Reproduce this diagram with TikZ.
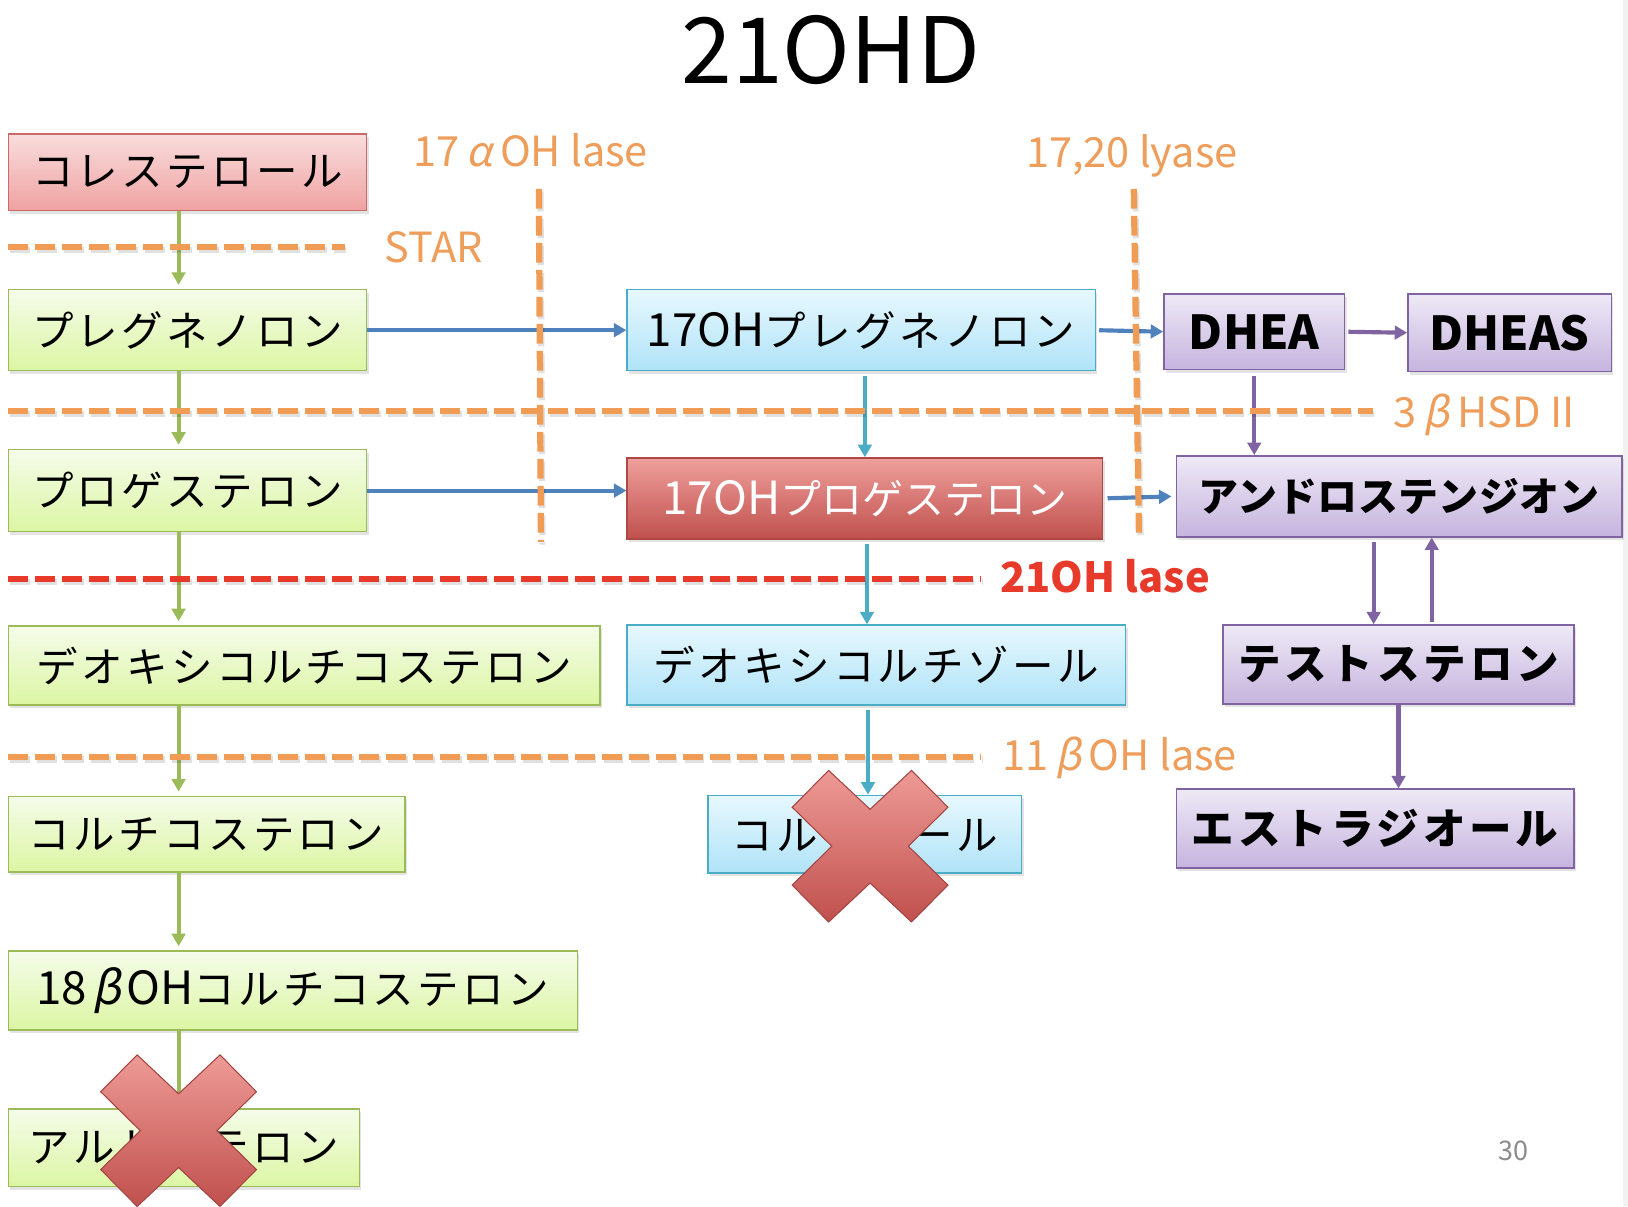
\documentclass[tikz,border=0pt]{standalone}
\usepackage{fontspec}
\setmainfont{Noto Sans CJK JP}
\newfontfamily\jpsl[FakeSlant=0.2]{Noto Sans CJK JP}
\usetikzlibrary{arrows.meta,shadows,calc}
\definecolor{orng}{HTML}{F09C55}
\definecolor{orngtxt}{HTML}{EE9D5A}
\definecolor{redl}{HTML}{E83A2B}
\definecolor{garrc}{HTML}{9BBB59}
\definecolor{barrc}{HTML}{4F81BD}
\definecolor{tarrc}{HTML}{4BACC6}
\definecolor{parrc}{HTML}{8064A2}
\definecolor{redb}{HTML}{C0504D}
\definecolor{pinktop}{HTML}{F9DDDD}
\definecolor{pinkbot}{HTML}{EFA2A1}
\definecolor{greentop}{HTML}{F5FCEA}
\definecolor{greenbot}{HTML}{DCF6A3}
\definecolor{bluetop}{HTML}{E7F8FE}
\definecolor{bluebot}{HTML}{B0E3F8}
\definecolor{redtop}{HTML}{EFA09C}
\definecolor{purptop}{HTML}{EEE9F6}
\definecolor{purpbot}{HTML}{C6B4DE}
\definecolor{xtop}{HTML}{EE9A96}
\newcommand\gk[1]{\hspace{7pt}{\jpsl #1}\hspace{7pt}}
\newcommand\lt[1]{{\fontsize{44}{46}\selectfont\addfontfeatures{LetterSpace=0}#1}}
\newcommand\drawcross[2]{%
  \begin{scope}[shift={(#1,#2)}]
  \path[xcross] (-39.9,-73) -- (0,-35.5) -- (39.9,-73) -- (75,-37.5) -- (36.9,0) -- (75,37.5)
    -- (39.9,73) -- (0,35.5) -- (-39.9,73) -- (-75,37.5) -- (-36.9,0) -- (-75,-37.5) -- cycle;
  \end{scope}}
\begin{document}
\begin{tikzpicture}[x=1pt,y=-1pt,
  box/.style={draw, line width=1.4pt, inner sep=0pt, align=center,
    font=\fontsize{40}{44}\selectfont\addfontfeatures{LetterSpace=8},
    drop shadow={shadow xshift=2pt, shadow yshift=-3pt, opacity=0.22}},
  pinkbox/.style={box, draw=redb!85, top color=pinktop, bottom color=pinkbot},
  greenbox/.style={box, draw=garrc, top color=greentop, bottom color=greenbot},
  bluebox/.style={box, draw=tarrc, top color=bluetop, bottom color=bluebot},
  redbox/.style={box, draw=redb!90!black, top color=redtop, bottom color=redb, text=white},
  purpbox/.style={box, draw=parrc, top color=purptop, bottom color=purpbot,
    font=\fontsize{41}{46}\selectfont\bfseries\addfontfeatures{LetterSpace=9}},
  arr/.style={line width=4pt, -{Triangle[length=12pt,width=13pt]}},
  garr/.style={arr, draw=garrc, shorten >=4pt},
  barr/.style={arr, draw=barrc},
  tarr/.style={arr, draw=tarrc, shorten <=4pt},
  parr/.style={arr, draw=parrc},
  dshadow/.style={draw=black, opacity=0.12, line width=6pt, dash pattern=on 19pt off 7pt, transform canvas={xshift=1.5pt, yshift=-2.5pt}},
  odash/.style={draw=orng, line width=6pt, dash pattern=on 19pt off 7pt},
  rdash/.style={draw=redl, line width=6pt, dash pattern=on 19pt off 7pt},
  olab/.style={anchor=west, text=orngtxt, font=\fontsize{40}{42}\selectfont, inner sep=0pt},
  xcross/.style={draw=redb!85!black, line width=1pt, top color=xtop, bottom color=redb}
]
\useasboundingbox (0,0) rectangle (1568,1162);
\fill[white] (0,0) rectangle (1568,1162);
\fill[black!5] (1563,0) rectangle (1568,1162);

% coordinates for vertical connectors
\coordinate (gx) at (172,0);
\coordinate (t1) at (833,0);
\coordinate (t2) at (835,0);
\coordinate (t3) at (836,0);
\coordinate (p1) at (1323,0);
\coordinate (p2) at (1379,0);

% title
\node[font=\fontsize{88}{90}\selectfont, inner sep=0pt] (title) at (800,48) {21OHD};

% left column
\node[pinkbox, minimum width=345pt, minimum height=74pt] (chol) at (180.5,166) {コレステロール};
\node[greenbox, minimum width=345pt, minimum height=78pt] (preg) at (180.5,318) {プレグネノロン};
\node[greenbox, minimum width=345pt, minimum height=79pt] (prog) at (180.5,472.5) {プロゲステロン};
\node[greenbox, minimum width=570pt, minimum height=76pt] (doc) at (293,641) {デオキシコルチコステロン};
\node[greenbox, minimum width=382pt, minimum height=73pt] (cort) at (199,803.5) {コルチコステロン};
\node[greenbox, minimum width=548pt, minimum height=76pt] (ohc) at (282,954) {\lt{18\hspace{5pt}{\jpsl β}\hspace{5pt}OH}コルチコステロン};
\node[greenbox, minimum width=338pt, minimum height=75pt] (ald) at (177,1105.5) {アルドステロン};

% middle column
\node[bluebox, minimum width=451pt, minimum height=78pt] (ohpreg) at (829.5,318) {\lt{17OH}プレグネノロン};
\node[redbox, minimum width=458pt, minimum height=78pt, font=\fontsize{39.5}{44}\selectfont\addfontfeatures{LetterSpace=0}] (ohprog) at (833,480) {\lt{17OH}プロゲステロン};
\node[bluebox, minimum width=480pt, minimum height=77pt] (dcl) at (844,640.5) {デオキシコルチゾール};
\node[bluebox, minimum width=302pt, minimum height=75pt] (cl) at (833,803.5) {コルチゾール};

% right column
\node[purpbox, minimum width=174pt, minimum height=73pt, font=\fontsize{45}{50}\selectfont\bfseries] (dhea) at (1208,319.5) {DHEA};
\node[purpbox, minimum width=196pt, minimum height=75pt, font=\fontsize{45}{50}\selectfont\bfseries] (dheas) at (1454,320.5) {DHEAS};
\node[purpbox, minimum width=429pt, minimum height=78pt, font=\fontsize{38.5}{42}\selectfont\bfseries\addfontfeatures{LetterSpace=1}] (andro) at (1347.5,478) {アンドロステンジオン};
\node[purpbox, minimum width=338pt, minimum height=76pt] (testo) at (1347,640) {テストステロン};
\node[purpbox, minimum width=383pt, minimum height=76pt] (estra) at (1324.5,798) {エストラジオール};

% green arrows
\draw[garr] (chol.south -| gx) -- (preg.north -| gx);
\draw[garr] (preg.south -| gx) -- (prog.north -| gx);
\draw[garr] (prog.south -| gx) -- (doc.north -| gx);
\draw[garr] (doc.south -| gx) -- (cort.north -| gx);
\draw[garr] (cort.south -| gx) -- (ohc.north -| gx);
\draw[garr] (ohc.south -| gx) -- (ald.north -| gx);

% blue arrows
\draw[barr] (preg.east) -- (ohpreg.west);
\draw[barr] (prog.east) -- (ohprog.west |- prog.east);
\draw[barr, shorten <=3pt] (ohpreg.east) -- (dhea.west);
\draw[barr, shorten <=4pt, shorten >=4pt] (ohprog.east) -- (andro.west);

% teal arrows
\draw[tarr] (ohpreg.south -| t1) -- (ohprog.north -| t1);
\draw[tarr] (ohprog.south -| t2) -- (dcl.north -| t2);
\draw[tarr] (dcl.south -| t3) -- (cl.north -| t3);

% purple arrows
\draw[parr, shorten <=3pt] (dhea.east) -- (dheas.west);
\draw[parr, shorten <=5pt] (dhea.south) -- (andro.north -| dhea.south);
\draw[parr, shorten <=4pt] (andro.south -| p1) -- (testo.north -| p1);
\draw[parr, shorten <=2pt] (testo.north -| p2) -- (andro.south -| p2);
\draw[parr] (testo.south) -- (estra.north -| testo.south);

% enzyme lines (soft shadow, then line)
\foreach \a/\b in {{(8,238)}/{(332,238)}, {(8,396)}/{(1322,396)}, {(8,558)}/{(945,558)}, {(8,729)}/{(945,729)}, {(519,182)}/{(521,522)}, {(1092,182)}/{(1097,518)}}
  \draw[dshadow] \a -- \b;
\draw[odash] (8,238) -- (332,238);
\draw[odash] (8,396) -- (1322,396);
\draw[rdash] (8,558) -- (945,558);
\draw[odash] (8,729) -- (945,729);
\draw[odash] (519,182) -- (521,522);
\draw[odash] (1092,182) -- (1097,518);

% enzyme labels
\node[olab] (l17a) at (398,145) {17\gk{α}OH lase};
\node[olab] (lstar) at (370,238) {STAR};
\node[olab] (l1720) at (988,150) {17,20 lyase};
\node[olab] (l3b) at (1342,400) {3\gk{β}HSD II};
\node[olab, text=redl, font=\fontsize{40}{44}\selectfont\bfseries] (l21) at (963,555) {21OH lase};
\node[olab] (l11b) at (965,730) {11\gk{β}OH lase};

% page number
\node[text=black!45, font=\fontsize{26}{28}\selectfont, inner sep=0pt] (pg) at (1458,1108) {30};

% crosses
\drawcross{838}{815}
\drawcross{172}{1089}
\end{tikzpicture}
\end{document}
